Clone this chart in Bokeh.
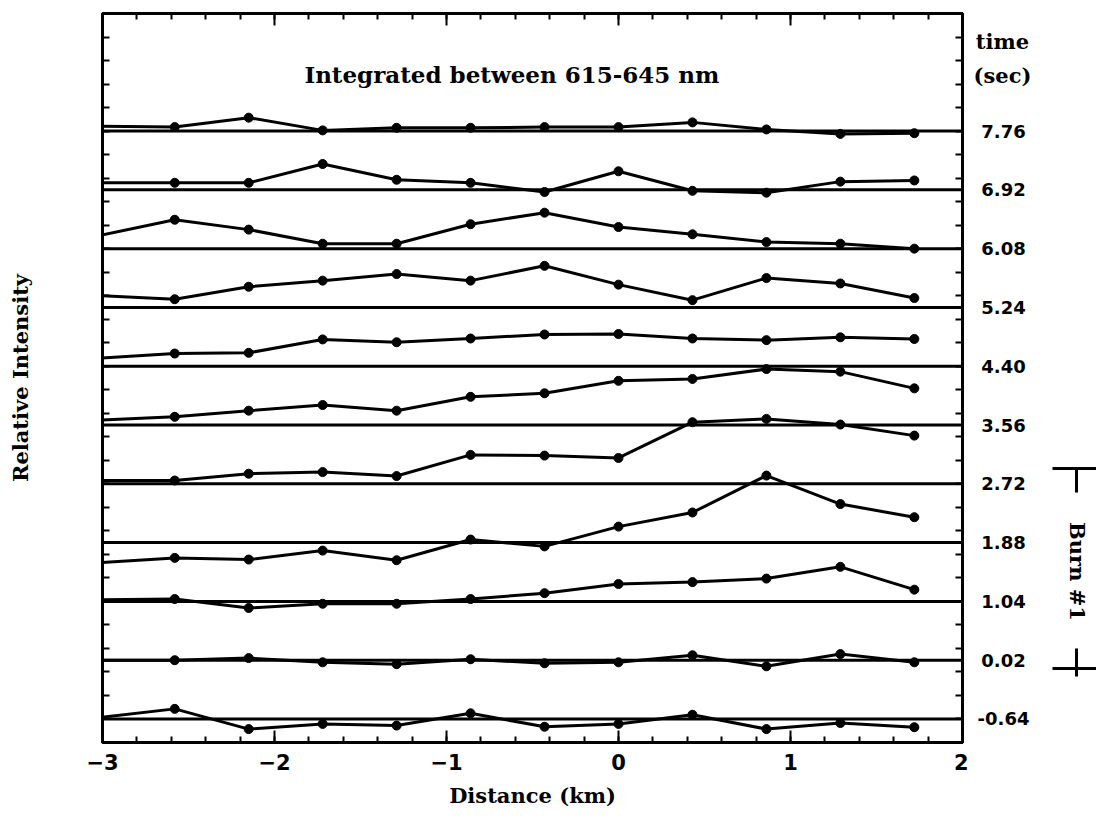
import numpy as np
from bokeh.plotting import figure
from bokeh.layouts import row
from bokeh.models import Range1d, LinearAxis, FixedTicker, Span, Label
from bokeh.core.properties import value
from bokeh.embed import file_html
from bokeh.resources import INLINE

# ---------------- data ----------------
distance_km = [-3.01, -2.58, -2.15, -1.72, -1.29, -0.86, -0.43, 0.0, 0.43, 0.86, 1.29, 1.72]

# time labels, bottom trace first
time_labels = ["-0.64", "0.02", "1.04", "1.88", "2.72", "3.56", "4.40", "5.24", "6.08", "6.92", "7.76"]

# relative intensity above each trace's own zero line
int_m064 = [0.07, 0.43, -0.43, -0.21, -0.28, 0.24, -0.33, -0.21, 0.18, -0.43, -0.17, -0.35]
int_002 = [0.00, 0.00, 0.09, -0.09, -0.17, 0.04, -0.13, -0.09, 0.21, -0.26, 0.26, -0.09]
int_104 = [0.07, 0.10, -0.28, -0.10, -0.10, 0.10, 0.35, 0.74, 0.82, 0.97, 1.47, 0.50]
int_188 = [-0.85, -0.65, -0.72, -0.34, -0.75, 0.13, -0.16, 0.68, 1.28, 2.85, 1.64, 1.08]
int_272 = [0.14, 0.14, 0.43, 0.50, 0.33, 1.23, 1.20, 1.10, 2.62, 2.76, 2.52, 2.05]
int_356 = [0.21, 0.35, 0.61, 0.85, 0.61, 1.20, 1.35, 1.88, 1.96, 2.38, 2.27, 1.56]
int_440 = [0.35, 0.54, 0.57, 1.14, 1.02, 1.18, 1.35, 1.37, 1.18, 1.11, 1.23, 1.16]
int_524 = [0.50, 0.35, 0.88, 1.14, 1.42, 1.14, 1.77, 0.97, 0.31, 1.25, 1.02, 0.40]
int_608 = [0.57, 1.23, 0.81, 0.21, 0.21, 1.04, 1.53, 0.92, 0.61, 0.28, 0.21, 0.00]
int_692 = [0.30, 0.30, 0.30, 1.10, 0.43, 0.30, -0.09, 0.79, -0.04, -0.12, 0.35, 0.40]
int_776 = [0.21, 0.17, 0.57, 0.03, 0.14, 0.14, 0.17, 0.17, 0.37, 0.07, -0.12, -0.09]

series = [int_m064, int_002, int_104, int_188, int_272, int_356,
          int_440, int_524, int_608, int_692, int_776]

x_ticks = [-3, -2, -1, 0, 1, 2]
x_tick_labels = ["\u22123", "\u22122", "\u22121", "0", "1", "2"]

title_text = "Integrated between 615-645 nm"
burn_text = "Burn #1"

# vertical stacking of the traces (offset of each zero line)
first_offset = 1.0
offset_step = 2.5
baselines = [first_offset + offset_step * k for k in range(len(series))]

SERIF = "DejaVu Serif"
SANS = "DejaVu Sans"
LW = 3

TOP, BOTTOM, LEFT, RIGHT = 13, 72, 102, 6
FRAME_W, FRAME_H = 860, 729
H = TOP + FRAME_H + BOTTOM
W1 = LEFT + FRAME_W + RIGHT

# ---------------- main figure ----------------
p = figure(width=W1, height=H,
           x_range=Range1d(-3, 2), y_range=Range1d(0, 31),
           x_axis_type=None, y_axis_type=None,
           output_backend="svg", toolbar_location=None,
           min_border_left=LEFT, min_border_right=RIGHT,
           min_border_top=TOP, min_border_bottom=BOTTOM)
p.outline_line_color = "black"
p.outline_line_width = LW
p.background_fill_color = "white"
p.border_fill_color = "white"

minor_x = [round(v, 2) for v in np.arange(-3, 2.001, 0.2)]
xt = FixedTicker(ticks=x_ticks, minor_ticks=minor_x)

below = LinearAxis(ticker=xt,
                   major_label_overrides={t: l for t, l in zip(x_ticks, x_tick_labels)},
                   axis_label="Distance (km)")
below.major_tick_in = 12
below.major_tick_out = 0
below.minor_tick_in = 6
below.minor_tick_out = 0
below.major_tick_line_width = 2
below.minor_tick_line_width = 2
below.axis_line_width = LW
below.major_label_text_font = SANS
below.major_label_text_font_style = "bold"
below.major_label_text_font_size = "21px"
below.major_label_text_color = "black"
below.major_label_standoff = 11
below.axis_label_text_font = SERIF
below.axis_label_text_font_style = "bold"
below.axis_label_text_font_size = "21px"
below.axis_label_text_color = "black"
below.axis_label_standoff = 10
p.add_layout(below, "below")

# top: short ticks every 0.2 km and long ticks every km, no labels
above_minor = LinearAxis(ticker=FixedTicker(ticks=[], minor_ticks=minor_x))
above_major = LinearAxis(ticker=FixedTicker(ticks=[], minor_ticks=x_ticks))
for ax, ln in ((above_minor, 6), (above_major, 12)):
    ax.minor_tick_in = ln
    ax.minor_tick_out = 0
    ax.major_tick_in = 0
    ax.major_tick_out = 0
    ax.minor_tick_line_width = 2
    ax.axis_line_width = LW
    ax.major_label_standoff = 0
    p.add_layout(ax, "above")

yt = FixedTicker(ticks=[], minor_ticks=list(range(0, 32)))
left = LinearAxis(ticker=yt, axis_label="Relative Intensity")
right = LinearAxis(ticker=yt)
for ax in (left, right):
    ax.minor_tick_in = 7
    ax.minor_tick_out = 0
    ax.major_tick_in = 0
    ax.major_tick_out = 0
    ax.minor_tick_line_width = 2
    ax.axis_line_width = LW
    ax.major_label_standoff = 0
left.axis_label_text_font = SERIF
left.axis_label_text_font_style = "bold"
left.axis_label_text_font_size = "21px"
left.axis_label_text_color = "black"
left.axis_label_standoff = 70
p.add_layout(left, "left")
p.add_layout(right, "right")

for b, vals in zip(baselines, series):
    p.add_layout(Span(location=b, dimension="width", line_color="black", line_width=LW))
    ys = [b + v for v in vals]
    p.line(distance_km, ys, line_color="black", line_width=LW)
    p.scatter(distance_km[1:], ys[1:], size=9, marker="circle",
              fill_color="black", line_color="black")

p.add_layout(Label(x=-0.62, y=28.4, text=title_text, text_align="center",
                   text_baseline="middle", text_font=SERIF, text_font_style="bold",
                   text_font_size="23px", text_color="black"))

# ---------------- right-hand annotation strip ----------------
p2 = figure(width=1096 - W1, height=H,
            x_range=Range1d(W1, 1096), y_range=p.y_range,
            x_axis_type=None, y_axis_type=None,
            output_backend="svg", toolbar_location=None,
            min_border_left=0, min_border_right=0,
            min_border_top=TOP, min_border_bottom=BOTTOM)
p2.outline_line_color = None
p2.background_fill_color = "white"
p2.border_fill_color = "white"

p2.text(x=[1003] * len(time_labels), y=baselines, text=time_labels,
        text_font=value(SANS), text_font_style="bold", text_font_size="18px",
        text_align="center", text_baseline="middle", text_color="black")
p2.text(x=[1002, 1002], y=[29.8, 28.36], text=["time", "(sec)"],
        text_font=value(SERIF), text_font_style="bold", text_font_size="21px",
        text_align="center", text_baseline="middle", text_color="black")
p2.text(x=[1077], y=[7.27], text=[burn_text], angle=-np.pi / 2,
        text_font=value(SERIF), text_font_style="bold", text_font_size="21px",
        text_align="center", text_baseline="middle", text_color="black")
p2.segment(x0=[1052, 1076, 1052, 1076], y0=[11.65, 11.65, 3.15, 4.0],
           x1=[1096, 1076, 1096, 1076], y1=[11.65, 10.63, 3.15, 2.81],
           line_color="black", line_width=LW)

layout = row(p, p2)
open("out.html", "w").write(file_html(layout, INLINE))
